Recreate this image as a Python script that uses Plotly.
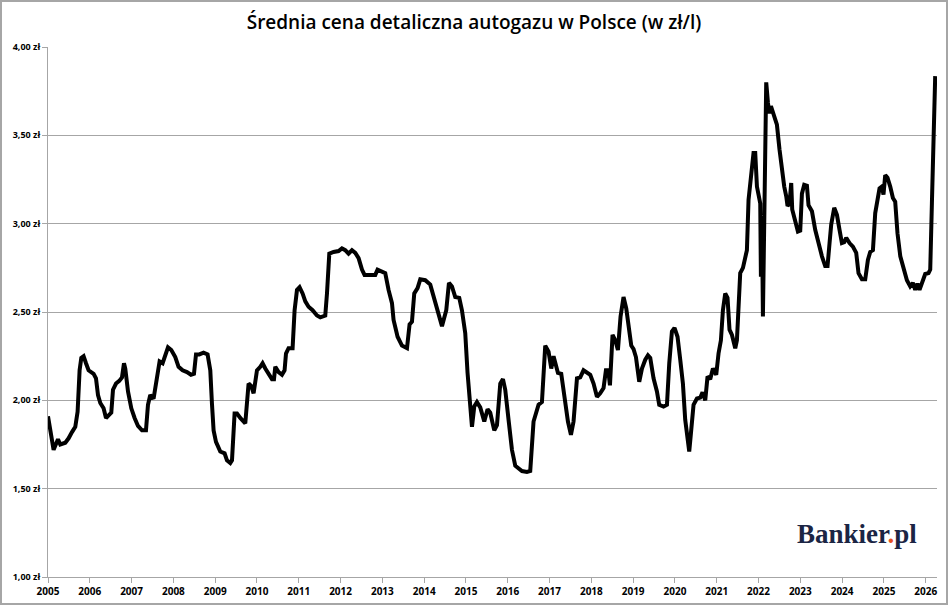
import plotly.graph_objects as go

# Average retail price of autogas (LPG) in Poland, zł per litre
years = [
    2005.000, 2005.134, 2005.239, 2005.294, 2005.414, 2005.493, 2005.574, 2005.653,
    2005.708, 2005.756, 2005.797, 2005.852, 2005.909, 2005.971, 2006.091, 2006.148,
    2006.196, 2006.251, 2006.330, 2006.388, 2006.450, 2006.514, 2006.555, 2006.627,
    2006.706, 2006.770, 2006.818, 2006.849, 2006.914, 2006.993, 2007.072, 2007.153,
    2007.249, 2007.344, 2007.392, 2007.447, 2007.526, 2007.608, 2007.670, 2007.742,
    2007.806, 2007.871, 2007.950, 2008.045, 2008.124, 2008.220, 2008.325, 2008.421,
    2008.493, 2008.541, 2008.620, 2008.722, 2008.818, 2008.883, 2008.923, 2008.962,
    2009.019, 2009.122, 2009.225, 2009.282, 2009.361, 2009.402, 2009.464, 2009.522,
    2009.600, 2009.720, 2009.799, 2009.864, 2009.919, 2009.959, 2010.000, 2010.079,
    2010.134, 2010.199, 2010.278, 2010.359, 2010.407, 2010.438, 2010.517, 2010.598,
    2010.660, 2010.694, 2010.756, 2010.852, 2010.900, 2010.957, 2011.019, 2011.091,
    2011.156, 2011.234, 2011.330, 2011.435, 2011.514, 2011.634, 2011.675, 2011.730,
    2011.833, 2011.952, 2012.033, 2012.112, 2012.191, 2012.273, 2012.352, 2012.431,
    2012.512, 2012.574, 2012.632, 2012.830, 2012.885, 2013.069, 2013.148, 2013.230,
    2013.268, 2013.364, 2013.469, 2013.589, 2013.651, 2013.708, 2013.763, 2013.842,
    2013.907, 2014.026, 2014.146, 2014.266, 2014.426, 2014.529, 2014.593, 2014.665,
    2014.744, 2014.840, 2014.904, 2014.983, 2015.038, 2015.144, 2015.199, 2015.263,
    2015.342, 2015.438, 2015.517, 2015.581, 2015.677, 2015.742, 2015.821, 2015.885,
    2015.940, 2016.019, 2016.100, 2016.179, 2016.282, 2016.340, 2016.459, 2016.538,
    2016.617, 2016.737, 2016.818, 2016.897, 2016.976, 2017.041, 2017.096, 2017.201,
    2017.280, 2017.359, 2017.440, 2017.512, 2017.574, 2017.656, 2017.734, 2017.813,
    2017.895, 2017.974, 2018.053, 2018.134, 2018.211, 2018.292, 2018.349, 2018.404,
    2018.445, 2018.507, 2018.572, 2018.636, 2018.699, 2018.770, 2018.835, 2018.890,
    2018.955, 2019.010, 2019.067, 2019.146, 2019.211, 2019.290, 2019.354, 2019.409,
    2019.488, 2019.569, 2019.624, 2019.727, 2019.809, 2019.864, 2019.928, 2019.990,
    2020.062, 2020.127, 2020.191, 2020.246, 2020.301, 2020.342, 2020.383, 2020.445,
    2020.526, 2020.605, 2020.660, 2020.725, 2020.780, 2020.844, 2020.909, 2020.988,
    2021.043, 2021.100, 2021.148, 2021.203, 2021.258, 2021.306, 2021.364, 2021.443,
    2021.483, 2021.522, 2021.562, 2021.627, 2021.682, 2021.722, 2021.761, 2021.801,
    2021.842, 2021.880, 2021.921, 2021.962, 2022.000, 2022.041, 2022.057, 2022.081,
    2022.105, 2022.136, 2022.184, 2022.225, 2022.256, 2022.297, 2022.359, 2022.440,
    2022.502, 2022.560, 2022.615, 2022.663, 2022.694, 2022.742, 2022.782, 2022.806,
    2022.878, 2022.943, 2022.998, 2023.038, 2023.093, 2023.158, 2023.196, 2023.278,
    2023.356, 2023.435, 2023.517, 2023.595, 2023.651, 2023.699, 2023.739, 2023.811,
    2023.876, 2023.938, 2023.995, 2024.050, 2024.098, 2024.177, 2024.258, 2024.337,
    2024.392, 2024.474, 2024.553, 2024.617, 2024.672, 2024.737, 2024.792, 2024.847,
    2024.895, 2024.952, 2024.990, 2025.031, 2025.086, 2025.151, 2025.215, 2025.270,
    2025.325, 2025.392, 2025.469, 2025.550, 2025.629, 2025.694, 2025.749, 2025.804,
    2025.852, 2025.909, 2025.988, 2026.067, 2026.108, 2026.148, 2026.187, 2026.227,
]
prices = [
    1.91, 1.72, 1.78, 1.75, 1.76, 1.785, 1.82, 1.85,
    1.935, 2.17, 2.24, 2.25, 2.21, 2.17, 2.15, 2.125,
    2.03, 1.985, 1.955, 1.90, 1.915, 1.93, 2.06, 2.095,
    2.11, 2.13, 2.21, 2.18, 2.05, 1.955, 1.90, 1.855,
    1.83, 1.83, 1.975, 2.03, 2.01, 2.13, 2.22, 2.21,
    2.26, 2.30, 2.285, 2.245, 2.19, 2.17, 2.16, 2.145,
    2.15, 2.26, 2.26, 2.27, 2.26, 2.17, 1.98, 1.83,
    1.765, 1.71, 1.70, 1.66, 1.645, 1.66, 1.925, 1.925,
    1.90, 1.87, 2.095, 2.08, 2.04, 2.115, 2.17, 2.19,
    2.21, 2.18, 2.155, 2.12, 2.12, 2.19, 2.16, 2.145,
    2.17, 2.265, 2.295, 2.295, 2.51, 2.625, 2.64, 2.605,
    2.56, 2.53, 2.51, 2.48, 2.47, 2.48, 2.605, 2.83,
    2.84, 2.845, 2.86, 2.85, 2.83, 2.85, 2.835, 2.805,
    2.74, 2.71, 2.71, 2.71, 2.74, 2.72, 2.625, 2.55,
    2.455, 2.36, 2.31, 2.295, 2.43, 2.445, 2.605, 2.635,
    2.685, 2.68, 2.655, 2.55, 2.42, 2.51, 2.665, 2.645,
    2.585, 2.58, 2.51, 2.38, 2.155, 1.85, 1.965, 1.99,
    1.96, 1.88, 1.95, 1.93, 1.83, 1.86, 2.095, 2.12,
    2.06, 1.89, 1.72, 1.63, 1.61, 1.60, 1.595, 1.60,
    1.88, 1.975, 1.99, 2.31, 2.275, 2.18, 2.25, 2.155,
    2.15, 2.02, 1.88, 1.805, 1.88, 2.125, 2.13, 2.17,
    2.16, 2.145, 2.095, 2.02, 2.04, 2.07, 2.17, 2.17,
    2.085, 2.37, 2.34, 2.285, 2.475, 2.585, 2.52, 2.40,
    2.31, 2.29, 2.245, 2.105, 2.18, 2.23, 2.255, 2.24,
    2.125, 2.05, 1.975, 1.965, 1.975, 2.21, 2.39, 2.41,
    2.36, 2.23, 2.095, 1.89, 1.755, 1.71, 1.815, 1.975,
    2.01, 2.015, 2.045, 2.00, 2.135, 2.12, 2.18, 2.145,
    2.265, 2.34, 2.51, 2.605, 2.58, 2.40, 2.37, 2.295,
    2.34, 2.49, 2.72, 2.75, 2.805, 2.85, 3.135, 3.21,
    3.305, 3.40, 3.40, 3.21, 3.165, 3.115, 2.70, 3.04,
    2.475, 3.17, 3.80, 3.685, 3.625, 3.665, 3.625, 3.56,
    3.42, 3.305, 3.21, 3.155, 3.10, 3.115, 3.23, 3.08,
    3.01, 2.955, 2.96, 3.17, 3.22, 3.215, 3.105, 3.07,
    2.965, 2.88, 2.815, 2.76, 2.76, 2.89, 2.995, 3.09,
    3.05, 2.965, 2.89, 2.895, 2.92, 2.89, 2.87, 2.835,
    2.72, 2.685, 2.685, 2.795, 2.84, 2.85, 3.06, 3.135,
    3.20, 3.21, 3.165, 3.275, 3.26, 3.21, 3.145, 3.125,
    2.945, 2.815, 2.755, 2.68, 2.645, 2.665, 2.625, 2.66,
    2.625, 2.67, 2.715, 2.72, 2.74, 3.115, 3.455, 3.835,
]

year_ticks = list(range(2005, 2027))
year_labels = [str(y) for y in year_ticks]
price_ticks = [1.0, 1.5, 2.0, 2.5, 3.0, 3.5, 4.0]
price_labels = ["1,00 zł", "1,50 zł", "2,00 zł", "2,50 zł", "3,00 zł", "3,50 zł", "4,00 zł"]

W, H = 948, 605
ML, MR, MT, MB = 48, 11, 47, 28
pw, ph = W - ML - MR, H - MT - MB

fig = go.Figure()
fig.add_trace(go.Scatter(
    x=years, y=prices, mode="lines",
    line=dict(color="#000000", width=4),
    showlegend=False, hoverinfo="x+y",
))

fig.update_layout(
    width=W, height=H,
    margin=dict(l=ML, r=MR, t=MT, b=MB, autoexpand=False),
    paper_bgcolor="#ffffff", plot_bgcolor="#ffffff",
    title=dict(
        text="Średnia cena detaliczna autogazu w Polsce (w zł/l)",
        x=0.5, xanchor="center", xref="container",
        y=1 - 22 / H, yanchor="middle",
        font=dict(family="Open Sans", size=19, color="#000000", weight=600),
    ),
    xaxis=dict(
        range=[2005, 2026.27], tickvals=year_ticks, ticktext=year_labels,
        showgrid=False, zeroline=False, automargin=False,
        showline=True, linecolor="#a6a6a6", linewidth=1,
        ticks="outside", ticklen=5, tickcolor="#a6a6a6",
        tickfont=dict(family="Open Sans", size=10, color="#000000", weight="bold"),
    ),
    yaxis=dict(
        range=[1, 4], tickvals=price_ticks, ticktext=price_labels,
        showgrid=True, gridcolor="#a6a6a6", gridwidth=1, zeroline=False,
        automargin=False,
        showline=True, linecolor="#a6a6a6", linewidth=1,
        ticks="outside", ticklen=5, tickcolor="#a6a6a6",
        tickfont=dict(family="Open Sans", size=9, color="#000000", weight="bold"),
    ),
    shapes=[dict(
        type="rect", xref="paper", yref="paper",
        x0=-(ML - 1) / pw, x1=1 + (MR - 1) / pw,
        y0=-(MB - 1) / ph, y1=1 + (MT - 1) / ph,
        line=dict(color="#a6a6a6", width=2), fillcolor="rgba(0,0,0,0)",
    )],
    annotations=[dict(
        text="Bankier<span style='color:#e8501e'>.</span>pl",
        xref="paper", yref="paper",
        x=(857 - ML) / pw, y=(577 - 534) / ph,
        xanchor="center", yanchor="middle", showarrow=False,
        font=dict(family="Liberation Serif", size=27, color="#1b2544", weight="bold"),
    )],
)

# drop the default page margin so the figure sits flush in the window
fig.write_html(
    "out.html",
    config={"displayModeBar": False},
    post_script="document.body.style.margin='0';",
)
